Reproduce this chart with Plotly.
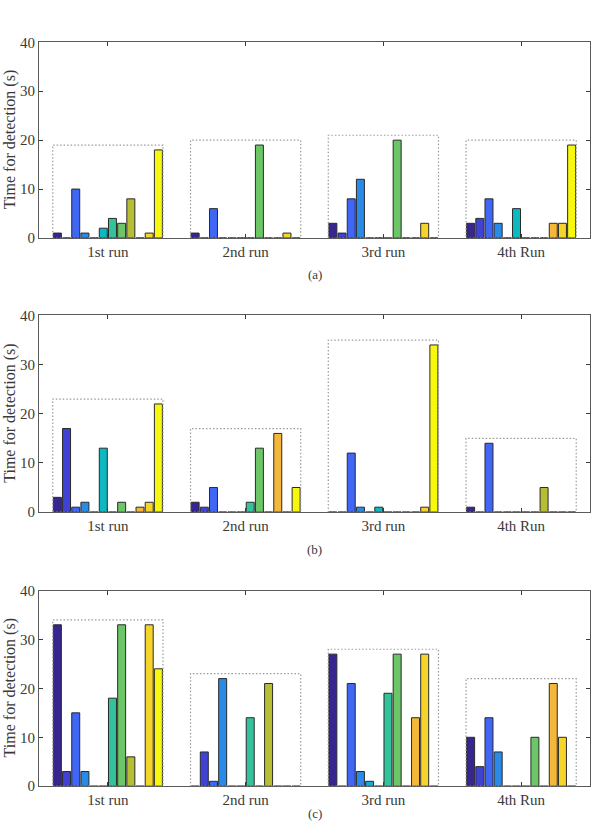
import plotly.graph_objects as go

# ---------------- data ----------------
runs = ["1st run", "2nd run", "3rd run", "4th Run"]
captions = ["(a)", "(b)", "(c)"]
y_ticks = [0, 10, 20, 30, 40]

# 12 bars per run (one per detector / colour), values in seconds
panel_a = [
    [1, 0, 10, 1, 0, 2, 4, 3, 8, 0, 1, 18],
    [1, 0, 6, 0, 0, 0, 0, 19, 0, 0, 1, 0],
    [3, 1, 8, 12, 0, 0, 0, 20, 0, 0, 3, 0],
    [3, 4, 8, 3, 0, 6, 0, 0, 0, 3, 3, 19],
]
panel_b = [
    [3, 17, 1, 2, 0, 13, 0, 2, 0, 1, 2, 22],
    [2, 1, 5, 0, 0, 0, 2, 13, 0, 16, 0, 5],
    [0, 0, 12, 1, 0, 1, 0, 0, 0, 0, 1, 34],
    [1, 0, 14, 0, 0, 0, 0, 0, 5, 0, 0, 0],
]
panel_c = [
    [33, 3, 15, 3, 0, 0, 18, 33, 6, 0, 33, 24],
    [0, 7, 1, 22, 0, 0, 14, 0, 21, 0, 0, 0],
    [27, 0, 21, 3, 1, 0, 19, 27, 0, 14, 27, 0],
    [10, 4, 14, 7, 0, 0, 0, 10, 0, 21, 10, 0],
]

bar_colors = [
    "#37268f", "#4042d4", "#3f66f5", "#2a8ae8", "#15a8d8", "#0cb8c2",
    "#33c29c", "#6cc668", "#b6be34", "#f4b73a", "#f5d42c", "#f8f80f",
]

# ---------------- layout geometry ----------------
W, H = 597, 830
L, R = 39, 7
panel_px = [(35, 234.5), (313.5, 514), (594, 793.5)]  # top, bottom in pixels
domains = [[1 - b / H, 1 - t / H] for t, b in panel_px]

FONT = "Liberation Serif, Times New Roman, serif"
TXT = "#3a3a3a"

fig = go.Figure()
panels = [panel_a, panel_b, panel_c]
group_x = [1, 2, 3, 4]

for p, data in enumerate(panels):
    suffix = "" if p == 0 else str(p + 1)
    for k in range(12):
        fig.add_trace(go.Bar(
            x=group_x,
            y=[data[g][k] for g in range(4)],
            marker=dict(color=bar_colors[k], line=dict(color="#2a2a2a", width=1)),
            xaxis="x" + suffix, yaxis="y" + suffix,
            showlegend=False,
            hoverinfo="y",
        ))
    # dotted bounding boxes per run
    for g in range(4):
        top = max(data[g]) + 1
        fig.add_shape(type="rect", xref="x" + suffix, yref="y" + suffix,
                      x0=group_x[g] - 0.4, x1=group_x[g] + 0.4, y0=0, y1=top,
                      line=dict(color="#9a9a9a", width=1.2, dash="1.5px,2px"),
                      layer="above")

axis_common = dict(
    showline=True, linecolor="#5a5a5a", linewidth=1, mirror="allticks",
    ticks="inside", ticklen=4, tickcolor="#3a3a3a", showgrid=False, zeroline=False,
    tickfont=dict(family=FONT, size=15, color=TXT),
)

layout = dict(
    width=W, height=H,
    margin=dict(l=L, r=R, t=0, b=0),
    paper_bgcolor="white", plot_bgcolor="white",
    barmode="group", bargap=0.2, bargroupgap=0.13,
    font=dict(family=FONT, size=15, color=TXT),
)

annotations = []
for p in range(3):
    suffix = "" if p == 0 else str(p + 1)
    layout["xaxis" + suffix] = dict(
        axis_common, domain=[0, 1], range=[0.5, 4.5],
        tickvals=group_x, ticktext=runs, anchor="y" + suffix,
    )
    layout["yaxis" + suffix] = dict(
        axis_common, domain=domains[p], range=[0, 40],
        tickvals=y_ticks, anchor="x" + suffix,
    )
    ymid = (domains[p][0] + domains[p][1]) / 2
    annotations.append(dict(
        text="Time for detection (s)", xref="paper", yref="paper",
        x=(10 - L) / (W - L - R), y=ymid, textangle=-90,
        showarrow=False, xanchor="center", yanchor="middle",
        font=dict(family=FONT, size=16, color=TXT),
    ))
    cap_y = [272, 552, 821][p]
    annotations.append(dict(
        text=captions[p], xref="paper", yref="paper",
        x=0.5, y=1 - cap_y / H, showarrow=False,
        xanchor="center", yanchor="middle",
        font=dict(family=FONT, size=13, color=TXT),
    ))

layout["annotations"] = annotations
fig.update_layout(**layout)

fig.write_html("out.html")
